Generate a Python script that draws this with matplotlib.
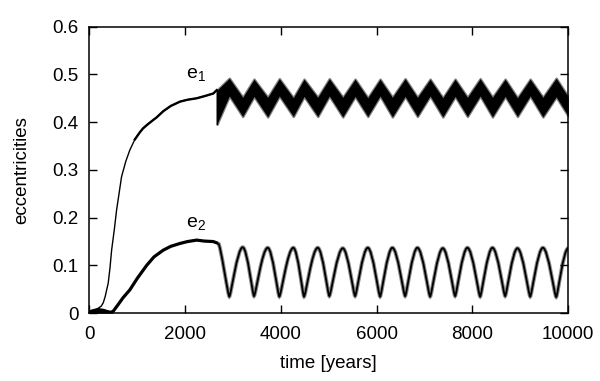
import numpy as np
import matplotlib
matplotlib.use('Agg')
import matplotlib.pyplot as plt
from matplotlib.path import Path
from matplotlib.patches import PathPatch

plt.rcParams['font.family'] = ['Liberation Sans', 'DejaVu Sans']
plt.rcParams['mathtext.fontset'] = 'custom'
plt.rcParams['mathtext.rm'] = 'Liberation Sans'

# --- data ---
# e1 growth phase
e1_rise_t = [0, 150, 250, 290, 330, 393, 430, 464, 519, 568, 672, 760, 846,
             950, 1055, 1120, 1200, 1300, 1404, 1543, 1700, 1891, 2050, 2240,
             2420, 2587, 2658]
e1_rise_v = [0.005, 0.008, 0.015, 0.022, 0.035, 0.063, 0.095, 0.132, 0.174,
             0.216, 0.286, 0.318, 0.342, 0.364, 0.379, 0.387, 0.394, 0.402,
             0.410, 0.423, 0.434, 0.443, 0.447, 0.450, 0.455, 0.460, 0.467]

# low noisy wedge near t=0
base_t = [0, 60, 120, 180, 240, 300, 360, 420, 480]
base_v = [0.007, 0.009, 0.011, 0.012, 0.011, 0.010, 0.008, 0.006, 0.003]

# e1 oscillating band (turning points: upper / lower edge of the dark band)
e1_osc_t = [2665, 2922, 3202, 3438, 3724, 3967, 4259, 4483, 4769, 5011, 5292,
            5549, 5814, 6071, 6328, 6594, 6851, 7116, 7381, 7638, 7895, 8161,
            8418, 8683, 8940, 9206, 9471, 9749, 10000]
e1_upper = [0.467, 0.492, 0.452, 0.490, 0.452, 0.491, 0.451, 0.490, 0.452,
            0.491, 0.452, 0.490, 0.451, 0.490, 0.452, 0.491, 0.452, 0.490,
            0.451, 0.490, 0.452, 0.491, 0.452, 0.490, 0.451, 0.490, 0.452,
            0.492, 0.453]
e1_lower = [0.396, 0.455, 0.412, 0.454, 0.411, 0.455, 0.412, 0.454, 0.412,
            0.455, 0.411, 0.454, 0.412, 0.455, 0.411, 0.454, 0.412, 0.455,
            0.411, 0.454, 0.412, 0.455, 0.411, 0.454, 0.412, 0.455, 0.411,
            0.453, 0.413]

# e2 growth phase
e2_rise_t = [0, 300, 450, 497, 600, 700, 846, 1000, 1195, 1350, 1543, 1700,
             1891, 2050, 2240, 2400, 2587, 2692]
e2_rise_v = [0.002, 0.002, 0.002, 0.004, 0.018, 0.032, 0.049, 0.073, 0.100,
             0.118, 0.132, 0.140, 0.146, 0.150, 0.153, 0.151, 0.150, 0.146]

# e2 oscillation turning points (troughs and peaks)
e2_osc_t = [2692, 2922, 3202, 3438, 3724, 3967, 4259, 4483, 4769, 5011, 5292,
            5549, 5814, 6071, 6328, 6594, 6851, 7116, 7381, 7638, 7895, 8161,
            8418, 8683, 8940, 9206, 9471, 9749, 10000]
e2_osc_v = [0.146, 0.035, 0.138, 0.036, 0.137, 0.035, 0.137, 0.035, 0.137,
            0.036, 0.136, 0.036, 0.137, 0.035, 0.137, 0.036, 0.137, 0.035,
            0.136, 0.036, 0.137, 0.035, 0.137, 0.036, 0.136, 0.035, 0.137,
            0.034, 0.136]


def turning_path(ts, vs):
    # smooth curve through turning points, flat tangents, round tops, sharp dips
    ks = [0.4 if v > 0.09 else 0.12 for v in vs]
    ks[0] = 0.2
    verts = [(ts[0], vs[0])]
    codes = [Path.MOVETO]
    for i in range(len(ts) - 1):
        dt = ts[i + 1] - ts[i]
        verts += [(ts[i] + ks[i] * dt, vs[i]),
                  (ts[i + 1] - ks[i + 1] * dt, vs[i + 1]),
                  (ts[i + 1], vs[i + 1])]
        codes += [Path.CURVE4] * 3
    return Path(verts, codes)


fig = plt.figure(figsize=(6, 3.81), dpi=100)
ax = fig.add_axes([0.149, 0.178, 0.798, 0.752])

ax.fill_between(base_t, 0, base_v, color='black', lw=0)
ax.plot(e1_rise_t, e1_rise_v, color='black', lw=1.0)
# later part of the e1 growth is drawn heavier (noisier) in the original
ax.plot(e1_rise_t[13:], e1_rise_v[13:], color='black', lw=1.7)
ax.plot(e2_rise_t, e2_rise_v, color='black', lw=2.3, solid_capstyle='butt')

ax.fill_between(e1_osc_t, e1_lower, e1_upper, color='#808080', lw=1.8,
                edgecolor='#808080')
ax.fill_between(e1_osc_t, e1_lower, e1_upper, color='black', lw=0)
ax.plot([2665, 2665], [0.396, 0.467], color='black', lw=1.0)

p2 = turning_path(e2_osc_t, e2_osc_v)
ax.add_patch(PathPatch(p2, fill=False, edgecolor='#8a8a8a', lw=2.8))
ax.add_patch(PathPatch(p2, fill=False, edgecolor='black', lw=1.3))

ax.text(2017, 0.492, r'$\mathregular{e_1}$', fontsize=14, ha='left',
        va='baseline')
ax.text(2017, 0.180, r'$\mathregular{e_2}$', fontsize=14, ha='left',
        va='baseline')

ax.set_xlim(0, 10000)
ax.set_ylim(0, 0.6)
ax.set_xticks([0, 2000, 4000, 6000, 8000, 10000])
ax.set_yticks([0, 0.1, 0.2, 0.3, 0.4, 0.5, 0.6])
ax.set_yticklabels(['0', '0.1', '0.2', '0.3', '0.4', '0.5', '0.6'])
ax.tick_params(direction='in', top=True, right=True, length=6, width=1,
               labelsize=13.5)
ax.tick_params(axis='x', pad=9)
ax.tick_params(axis='y', pad=8)
for s in ax.spines.values():
    s.set_linewidth(1.1)

ax.set_xlabel('time [years]', fontsize=13.5, labelpad=9)
ax.set_ylabel('eccentricities', fontsize=13.5, labelpad=16)

fig.savefig('out.png', dpi=100)
